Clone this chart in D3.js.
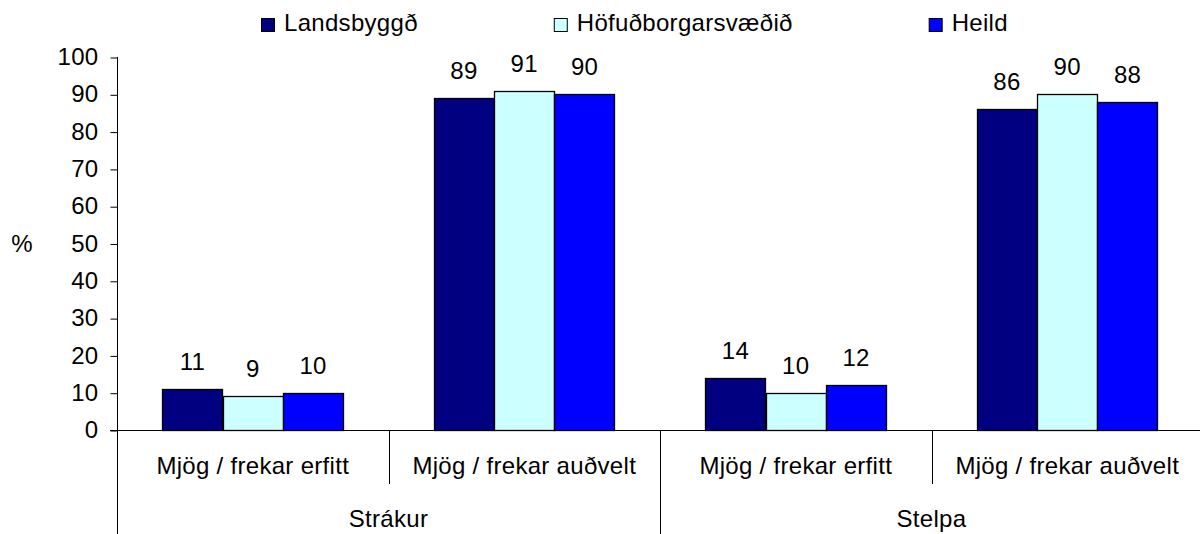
<!DOCTYPE html>
<html>
<head>
<meta charset="utf-8">
<script src="https://cdn.jsdelivr.net/npm/d3@7"></script>
<style>
  body { margin: 0; background: #fff; }
  svg { display: block; font-family: "Liberation Sans", Arial, sans-serif; }
  text { fill: #000; letter-spacing: 0.3px; }
</style>
</head>
<body>
<div id="chart"></div>
<script>
// data
const groups = ["Strákur", "Stelpa"];
const answers = ["Mjög / frekar erfitt", "Mjög / frekar auðvelt"];
const seriesNames = ["Landsbyggð", "Höfuðborgarsvæðið", "Heild"];
const landsbyggd = [11, 89, 14, 86];
const hofudborg = [9, 91, 10, 90];
const heild = [10, 90, 12, 88];
const yTicks = [0, 10, 20, 30, 40, 50, 60, 70, 80, 90, 100];

const colors = ["#000080", "#CCFFFF", "#0000FF"];
const values = [landsbyggd, hofudborg, heild];

const width = 1200, height = 534;
const plotLeft = 117, plotRight = 1203, plotTop = 57, plotBottom = 430;
const fs = 24;

const svg = d3.select("#chart").append("svg")
    .attr("width", width)
    .attr("height", height);

// categories = group x answer
const cats = [];
groups.forEach((g, gi) => answers.forEach((a, ai) => cats.push({ g: g, a: a, i: gi * answers.length + ai })));

const x = d3.scaleBand()
    .domain(cats.map(d => d.i))
    .range([plotLeft, plotRight]);

const xInner = d3.scaleBand()
    .domain(seriesNames)
    .range([0, x.bandwidth()])
    .paddingInner(0)
    .paddingOuter(0.75);

const y = d3.scaleLinear()
    .domain([0, 100])
    .range([plotBottom, plotTop]);

// y axis
const yAxis = d3.axisLeft(y)
    .tickValues(yTicks)
    .tickSize(7)
    .tickPadding(12);

const ya = svg.append("g")
    .attr("transform", "translate(" + (plotLeft + 0.5) + ",0)")
    .call(yAxis);
ya.select(".domain").remove();
ya.selectAll("text")
    .attr("font-size", fs)
    .attr("font-family", "Liberation Sans, Arial, sans-serif")
    .attr("fill", "#000");
ya.selectAll("line").attr("stroke", "#000").attr("transform", "translate(0,0.5)");

// axis lines
svg.append("line")
    .attr("x1", plotLeft + 0.5).attr("x2", plotLeft + 0.5)
    .attr("y1", plotTop).attr("y2", height)
    .attr("stroke", "#000");

svg.append("text")
    .attr("x", 22)
    .attr("y", y(50) + 8)
    .attr("text-anchor", "middle")
    .attr("font-size", fs)
    .text("%");

// bars
const rows = [];
cats.forEach(c => seriesNames.forEach((s, si) => rows.push({ cat: c.i, s: s, si: si, v: values[si][c.i] })));

svg.append("g").selectAll("rect")
    .data(rows)
    .enter()
    .append("rect")
    .attr("x", d => Math.round(x(d.cat) + xInner(d.s)) + 0.5)
    .attr("y", d => Math.round(y(d.v)) + 0.5)
    .attr("width", Math.round(xInner.bandwidth()))
    .attr("height", d => Math.round(plotBottom - y(d.v)))
    .attr("fill", d => colors[d.si])
    .attr("stroke", "#000")
    .attr("stroke-width", 1.3);

svg.append("g").selectAll("text")
    .data(rows)
    .enter()
    .append("text")
    .attr("x", d => x(d.cat) + xInner(d.s) + xInner.bandwidth() / 2)
    .attr("y", d => y(d.v) - 19)
    .attr("text-anchor", "middle")
    .attr("font-size", fs)
    .text(d => d.v);

// x axis line
svg.append("line")
    .attr("x1", plotLeft - 7).attr("x2", width)
    .attr("y1", plotBottom + 0.5).attr("y2", plotBottom + 0.5)
    .attr("stroke", "#000");

// category dividers
cats.forEach(c => {
    if (c.i === 0) return;
    const isGroup = c.i % answers.length === 0;
    svg.append("line")
        .attr("x1", Math.round(x(c.i)) + 0.5).attr("x2", Math.round(x(c.i)) + 0.5)
        .attr("y1", plotBottom)
        .attr("y2", isGroup ? height : 484)
        .attr("stroke", "#000");
});

// category labels
svg.append("g").selectAll("text")
    .data(cats)
    .enter()
    .append("text")
    .attr("x", d => x(d.i) + x.bandwidth() / 2)
    .attr("y", 474)
    .attr("text-anchor", "middle")
    .attr("font-size", fs)
    .text(d => d.a);

// group labels
svg.append("g").selectAll("text")
    .data(groups)
    .enter()
    .append("text")
    .attr("x", (d, i) => x(i * answers.length) + x.bandwidth() * answers.length / 2)
    .attr("y", 527)
    .attr("text-anchor", "middle")
    .attr("font-size", fs)
    .text(d => d);

// legend
const legend = svg.append("g");
let lx = 261;
seriesNames.forEach((s, i) => {
    legend.append("rect")
        .attr("x", lx + 0.5).attr("y", 18.5)
        .attr("width", 13).attr("height", 13)
        .attr("fill", colors[i])
        .attr("stroke", "#000");
    const t = legend.append("text")
        .attr("x", lx + 23)
        .attr("y", 31)
        .attr("font-size", fs)
        .text(s);
    lx += 23 + t.node().getComputedTextLength() + 136;
});
</script>
</body>
</html>
